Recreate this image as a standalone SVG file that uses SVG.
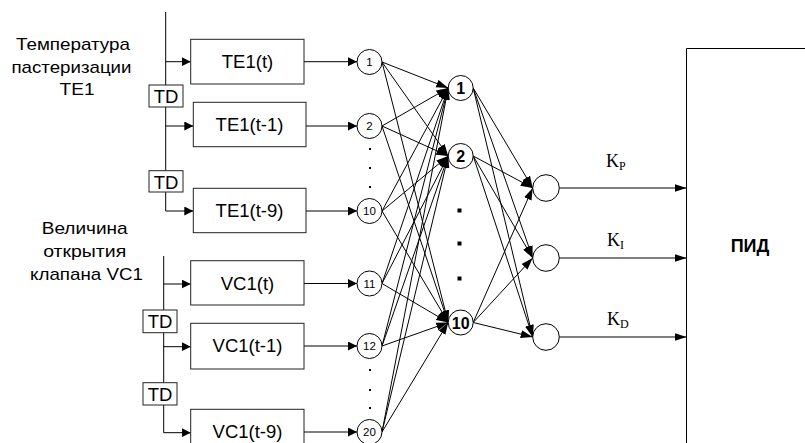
<svg xmlns="http://www.w3.org/2000/svg" width="805" height="443" viewBox="0 0 805 443">
<style>
.ln{stroke:#000;stroke-width:1;fill:none}
.box{stroke:#222;stroke-width:1;fill:#fff}
.c{stroke:#000;stroke-width:1;fill:#fff}
.lbl{font-family:"Liberation Sans",Arial,sans-serif;font-size:17px;fill:#000;text-anchor:middle}
.bt{font-family:"Liberation Sans",Arial,sans-serif;font-size:18.5px;fill:#000;text-anchor:middle}
.td{font-family:"Liberation Sans",Arial,sans-serif;font-size:18.5px;fill:#000;text-anchor:middle}
.ni{font-family:"Liberation Sans",Arial,sans-serif;font-size:11.5px;fill:#000;text-anchor:middle}
.nh{font-family:"Liberation Sans",Arial,sans-serif;font-size:16px;font-weight:bold;fill:#000;text-anchor:middle}
.k{font-family:"Liberation Serif","Times New Roman",serif;font-size:18px;fill:#000}
.sub{font-size:12px}
.pid{font-family:"Liberation Sans",Arial,sans-serif;font-size:18px;font-weight:bold;fill:#000;text-anchor:middle}
.a{marker-end:url(#as)}
.b{marker-end:url(#ab)}
</style>
<defs>
<marker id="as" markerUnits="userSpaceOnUse" markerWidth="10" markerHeight="9" refX="9" refY="4.5" orient="auto">
<path d="M0,0 L9,4.5 L0,9 z" fill="#000"/>
</marker>
<marker id="ab" markerUnits="userSpaceOnUse" markerWidth="13" markerHeight="9" refX="12" refY="4.5" orient="auto">
<path d="M0,0.5 L12,4.5 L0,8.5 z" fill="#000"/>
</marker>
</defs>

<g id="labels">
<text class="lbl" x="73" y="50" textLength="114" lengthAdjust="spacingAndGlyphs">Температура</text>
<text class="lbl" x="71.5" y="72.5" textLength="120" lengthAdjust="spacingAndGlyphs">пастеризации</text>
<text class="lbl" x="77" y="95" textLength="35" lengthAdjust="spacingAndGlyphs">TE1</text>
<text class="lbl" x="84.7" y="234" textLength="86" lengthAdjust="spacingAndGlyphs">Величина</text>
<text class="lbl" x="84.7" y="257" textLength="83" lengthAdjust="spacingAndGlyphs">открытия</text>
<text class="lbl" x="86.5" y="280" textLength="113" lengthAdjust="spacingAndGlyphs">клапана VC1</text>
</g>

<g id="connectors">
<path class="ln" d="M165.7,12 V85 M165.7,107 V170.7 M165.7,192 V211"/>
<path class="ln a" d="M165.7,61.7 H190.7"/>
<path class="ln a" d="M165.7,126 H193.3"/>
<path class="ln a" d="M165.7,211 H193.3"/>
<path class="ln" d="M163.7,256 V310 M163.7,332.7 V382.7 M163.7,405 V432.7"/>
<path class="ln a" d="M163.7,284 H190.7"/>
<path class="ln a" d="M163.7,346.7 H190.7"/>
<path class="ln a" d="M163.7,432.7 H190.7"/>
<path class="ln a" d="M304,61.7 H357"/>
<path class="ln a" d="M306,126 H357"/>
<path class="ln a" d="M306,211 H357"/>
<path class="ln a" d="M304,283.5 H357"/>
<path class="ln a" d="M304,346 H357"/>
<path class="ln a" d="M304,432 H357"/>
<path class="ln b" d="M382,62 L448.2,88"/>
<path class="ln b" d="M382,62 L448.2,156"/>
<path class="ln b" d="M382,62 L448.2,322.5"/>
<path class="ln b" d="M382,126 L448.2,88"/>
<path class="ln b" d="M382,126 L448.2,156"/>
<path class="ln b" d="M382,126 L448.2,322.5"/>
<path class="ln b" d="M382,211 L448.2,88"/>
<path class="ln b" d="M382,211 L448.2,156"/>
<path class="ln b" d="M382,211 L448.2,322.5"/>
<path class="ln b" d="M382,283.5 L448.2,88"/>
<path class="ln b" d="M382,283.5 L448.2,156"/>
<path class="ln b" d="M382,283.5 L448.2,322.5"/>
<path class="ln b" d="M382,346 L448.2,88"/>
<path class="ln b" d="M382,346 L448.2,156"/>
<path class="ln b" d="M382,346 L448.2,322.5"/>
<path class="ln b" d="M382,432 L448.2,88"/>
<path class="ln b" d="M382,432 L448.2,156"/>
<path class="ln b" d="M382,432 L448.2,322.5"/>
<path class="ln b" d="M473.2,88 L532.7,188"/>
<path class="ln b" d="M473.2,88 L532.7,258"/>
<path class="ln b" d="M473.2,88 L532.7,337"/>
<path class="ln b" d="M473.2,156 L532.7,188"/>
<path class="ln b" d="M473.2,156 L532.7,258"/>
<path class="ln b" d="M473.2,156 L532.7,337"/>
<path class="ln b" d="M473.2,322.5 L532.7,188"/>
<path class="ln b" d="M473.2,322.5 L532.7,258"/>
<path class="ln b" d="M473.2,322.5 L532.7,337"/>
<path class="ln b" d="M559.3,188 H686.5"/>
<path class="ln b" d="M559.3,258 H686.5"/>
<path class="ln b" d="M559.3,337 H686.5"/>
</g>

<g id="td1"><rect class="box" x="149" y="85" width="34" height="22"/><text class="td" x="166" y="103">TD</text></g>
<g id="td2"><rect class="box" x="149" y="170.7" width="34" height="21.3"/><text class="td" x="166" y="188.5">TD</text></g>
<g id="td3"><rect class="box" x="143" y="310" width="34" height="22.7"/><text class="td" x="160" y="328">TD</text></g>
<g id="td4"><rect class="box" x="143" y="382.7" width="34" height="22.3"/><text class="td" x="160" y="400.5">TD</text></g>

<g id="box-te1-t"><rect class="box" x="190.7" y="39.3" width="113.3" height="44.7"/><text class="bt" x="247.5" y="68">TE1(t)</text></g>
<g id="box-te1-t1"><rect class="box" x="193.3" y="102.3" width="112.7" height="44.4"/><text class="bt" x="249.5" y="131">TE1(t-1)</text></g>
<g id="box-te1-t9"><rect class="box" x="193.3" y="188.3" width="112.7" height="44.4"/><text class="bt" x="249.5" y="217">TE1(t-9)</text></g>
<g id="box-vc1-t"><rect class="box" x="190.7" y="260.7" width="113.3" height="44.3"/><text class="bt" x="247.5" y="289.5">VC1(t)</text></g>
<g id="box-vc1-t1"><rect class="box" x="190.7" y="323.3" width="113.3" height="45.7"/><text class="bt" x="247.5" y="352">VC1(t-1)</text></g>
<g id="box-vc1-t9"><rect class="box" x="190.7" y="409.3" width="113.3" height="46"/><text class="bt" x="247.5" y="438">VC1(t-9)</text></g>

<g id="in1"><circle class="c" cx="369.5" cy="62" r="12.5"/><text class="ni" x="369.5" y="66">1</text></g>
<g id="in2"><circle class="c" cx="369.5" cy="126" r="12.5"/><text class="ni" x="369.5" y="130">2</text></g>
<g id="in10"><circle class="c" cx="369.5" cy="211" r="12.5"/><text class="ni" x="369.5" y="215">10</text></g>
<g id="in11"><circle class="c" cx="369.5" cy="283.5" r="12.5"/><text class="ni" x="369.5" y="287.5">11</text></g>
<g id="in12"><circle class="c" cx="369.5" cy="346" r="12.5"/><text class="ni" x="369.5" y="350">12</text></g>
<g id="in20"><circle class="c" cx="369.5" cy="432" r="12.5"/><text class="ni" x="369.5" y="436">20</text></g>

<g id="dots-in" fill="#000">
<rect x="369" y="148" width="2" height="2"/>
<rect x="369" y="167" width="2" height="2"/>
<rect x="369" y="186" width="2" height="2"/>
<rect x="369" y="369" width="2" height="2"/>
<rect x="369" y="389" width="2" height="2"/>
<rect x="369" y="407" width="2" height="2"/>
</g>

<g id="h1"><circle class="c" cx="460.7" cy="88" r="12.5"/><text class="nh" x="460.7" y="94">1</text></g>
<g id="h2"><circle class="c" cx="460.7" cy="156" r="12.5"/><text class="nh" x="460.7" y="162">2</text></g>
<g id="h10"><circle class="c" cx="460.7" cy="322.5" r="12.5"/><text class="nh" x="460.7" y="328.5">10</text></g>

<g id="dots-h" fill="#000">
<rect x="457.5" y="208.5" width="4" height="4"/>
<rect x="457.5" y="241.5" width="4" height="4"/>
<rect x="457.5" y="276.5" width="4" height="4"/>
</g>

<g id="o1"><circle class="c" cx="546" cy="188" r="13.3"/></g>
<g id="o2"><circle class="c" cx="546" cy="258" r="13.3"/></g>
<g id="o3"><circle class="c" cx="546" cy="337" r="13.3"/></g>

<g id="klabels">
<text class="k" x="606" y="167">K<tspan class="sub" dy="2.5">P</tspan></text>
<text class="k" x="607" y="246">K<tspan class="sub" dy="2.5">I</tspan></text>
<text class="k" x="607" y="325">K<tspan class="sub" dy="2.5">D</tspan></text>
</g>

<g id="pid">
<path class="ln" d="M686.5,443 V48.5 H806"/>
<text class="pid" x="750" y="252">ПИД</text>
</g>
</svg>
